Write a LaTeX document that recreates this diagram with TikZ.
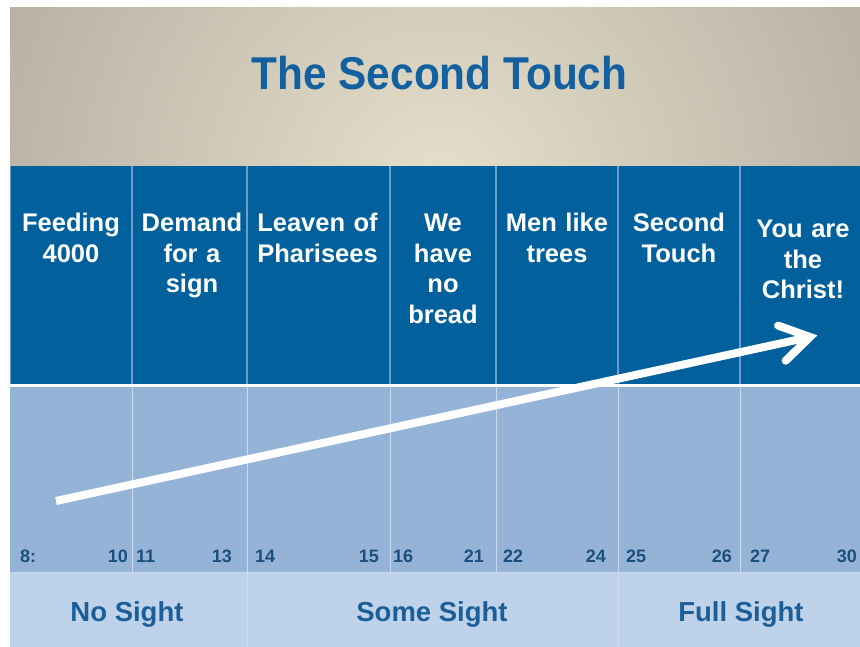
\documentclass[tikz,border=0pt]{standalone}
\usepackage{fontspec}
\setmainfont{Liberation Sans}
\newfontfamily\titlefont[FakeStretch=0.92]{Liberation Sans}
\usetikzlibrary{calc}
\definecolor{titlein}{HTML}{E6DFCB}
\definecolor{titleout}{HTML}{98948A}
\definecolor{topblue}{HTML}{02619C}
\definecolor{divdark}{HTML}{6F9DCB}
\definecolor{lightband}{HTML}{95B3D7}
\definecolor{divlight}{HTML}{C9DAEE}
\definecolor{bottomband}{HTML}{BED2EA}
\definecolor{numblue}{HTML}{1B4F7E}
\definecolor{labblue}{HTML}{1C5E97}
\definecolor{titleblue}{HTML}{12609F}
\begin{document}
\begin{tikzpicture}[x=1pt,y=-1pt,
  hdr/.style={font=\fontsize{25.5}{30.5}\selectfont\bfseries, text=white, align=center, anchor=base, inner sep=0pt, text width=#1},
  numw/.style={font=\fontsize{18}{18}\selectfont\bfseries, text=numblue, inner sep=0pt, anchor=base west},
  nume/.style={font=\fontsize{18}{18}\selectfont\bfseries, text=numblue, inner sep=0pt, anchor=base east},
  lab/.style={font=\fontsize{27.5}{30}\selectfont\bfseries, text=labblue, inner sep=0pt, anchor=base},
  arrowline/.style={white, line width=8pt}]
\useasboundingbox (0,0) rectangle (860,647);
% title background
\begin{scope}
\clip (10,8) rectangle (860,166);
\shade[inner color=titlein, outer color=titleout] (440,190) circle[radius=780pt];
\end{scope}
% bands
\fill[topblue] (10,166) rectangle (860,384);
\fill[white] (10,384) rectangle (860,387);
\fill[lightband] (10,387) rectangle (860,572);
\fill[bottomband] (10,572) rectangle (860,647);
\draw[divlight, line width=1.2pt] (10,572.5) -- (860,572.5);
\draw[divdark, line width=1pt] (10.5,166) -- (10.5,384);
% dividers
\foreach \x in {132,247,390,496,618,740}{
  \draw[divdark, line width=1.2pt] (\x,166) -- (\x,384);
  \draw[divlight, line width=1pt] (\x,387) -- (\x,572);
}
\foreach \x in {247,618}{
  \draw[divlight, line width=1pt] (\x,573) -- (\x,647);
}
% title
\node[font=\titlefont\fontsize{46}{50}\selectfont\bfseries, text=titleblue, inner sep=0pt, anchor=base] (title) at (439.5,90) {The Second Touch};
% headers
\node[hdr=118pt] (h1) at (71,232) {Feeding\\4000};
\node[hdr=112pt] (h2) at (192,232) {Demand\\for a\\sign};
\node[hdr=140pt] (h3) at (317.5,232) {Leaven of\\Pharisees};
\node[hdr=104pt] (h4) at (443,232) {We\\have\\no\\bread};
\node[hdr=120pt] (h5) at (557,232) {Men like\\trees};
\node[hdr=120pt] (h6) at (679,232) {Second\\Touch};
\node[hdr=118pt] (h7) at (803,238) {You are\\the\\Christ!};
% chapter/verse numbers
\node[numw] (n1a) at (20,562) {8:};
\node[nume] (n1b) at (128,562) {10};
\node[numw] (n2a) at (136,562) {11};
\node[nume] (n2b) at (232,562) {13};
\node[numw] (n3a) at (255,562) {14};
\node[nume] (n3b) at (379,562) {15};
\node[numw] (n4a) at (393,562) {16};
\node[nume] (n4b) at (484,562) {21};
\node[numw] (n5a) at (503,562) {22};
\node[nume] (n5b) at (606,562) {24};
\node[numw] (n6a) at (626,562) {25};
\node[nume] (n6b) at (732,562) {26};
\node[numw] (n7a) at (750,562) {27};
\node[nume] (n7b) at (857,562) {30};
% sight labels
\node[lab] (l1) at (127,621) {No Sight};
\node[lab] (l2) at (432,621) {Some Sight};
\node[lab] (l3) at (741,621) {Full Sight};
% arrow
\coordinate (start) at (56,501);
\coordinate (tip) at (810,337);
\draw[arrowline] (start) -- ($(tip)!4pt!(start)$);
\draw[white, line width=8pt, line cap=round, line join=miter, miter limit=10]
  ($(tip)!34pt!32:(start)$) -- (tip) -- ($(tip)!34pt!-32:(start)$);
\end{tikzpicture}
\end{document}
